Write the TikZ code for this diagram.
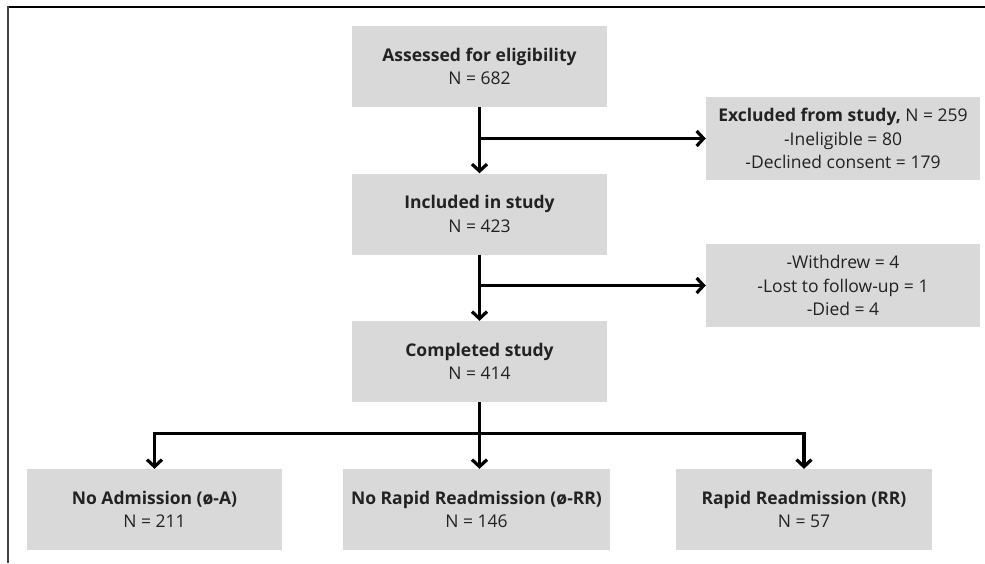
\documentclass[tikz,border=0pt]{standalone}
\usepackage{fontspec}
\setmainfont{Open Sans}
\usetikzlibrary{arrows.meta,calc}
\definecolor{boxgray}{HTML}{D9D9D9}
\definecolor{txt}{HTML}{222222}
\definecolor{frameleft}{HTML}{444444}
\begin{document}
\begin{tikzpicture}[x=1pt,y=-1pt,
  box/.style={fill=boxgray, text=txt, align=center, inner sep=0pt,
    font=\fontsize{17.5}{23.5}\selectfont},
  mainbox/.style={box, minimum width=255pt, minimum height=81pt},
  sidebox/.style={box, minimum width=274pt, minimum height=83pt},
  link/.style={line width=3.2pt, black},
  conn/.style={link, -{Straight Barb[length=7pt,width=15pt,line width=3.2pt]}}
]
\useasboundingbox (0,0) rectangle (985,563);
\draw[line width=2pt, black] (8,7) -- (985,7);
\draw[line width=2pt, frameleft] (8,6) -- (8,563);

\node[mainbox] (a) at (479.5,66.5) {\textbf{Assessed for eligibility}\\N = 682};
\node[mainbox] (b) at (479.5,214) {\textbf{Included in study}\\N = 423};
\node[mainbox] (c) at (479.5,361.5) {\textbf{Completed study}\\N = 414};
\node[sidebox] (ex) at (843,138.5) {\textbf{Excluded from study,} N = 259\\-Ineligible = 80\\-Declined consent = 179};
\node[sidebox] (wd) at (843,285.5) {-Withdrew = 4\\-Lost to follow-up = 1\\-Died = 4};
\node[box, minimum width=255pt, minimum height=81pt] (l) at (154.5,509.5) {\textbf{No Admission (ø-A)}\\N = 211};
\node[box, minimum width=267pt, minimum height=81pt] (m) at (476.5,509.5) {\textbf{No Rapid Readmission (ø-RR)}\\N = 146};
\node[box, minimum width=256pt, minimum height=81pt] (r) at (804,509.5) {\textbf{Rapid Readmission (RR)}\\N = 57};

\draw[conn] (a.south) -- (b.north);
\draw[conn] (a.south |- ex.west) -- (ex.west);
\draw[conn] (b.south) -- (c.north);
\draw[conn] (b.south |- wd.west) -- (wd.west);

\coordinate (h) at ($(c.south)+(0,31.5)$);
\draw[link] (c.south) -- (h);
\draw[link, line cap=rect] (l.north |- h) -- (r.north |- h);
\draw[conn] (l.north |- h) -- (l.north);
\draw[conn] (h) -- (h |- m.north);
\draw[conn] (r.north |- h) -- (r.north);
\end{tikzpicture}
\end{document}
